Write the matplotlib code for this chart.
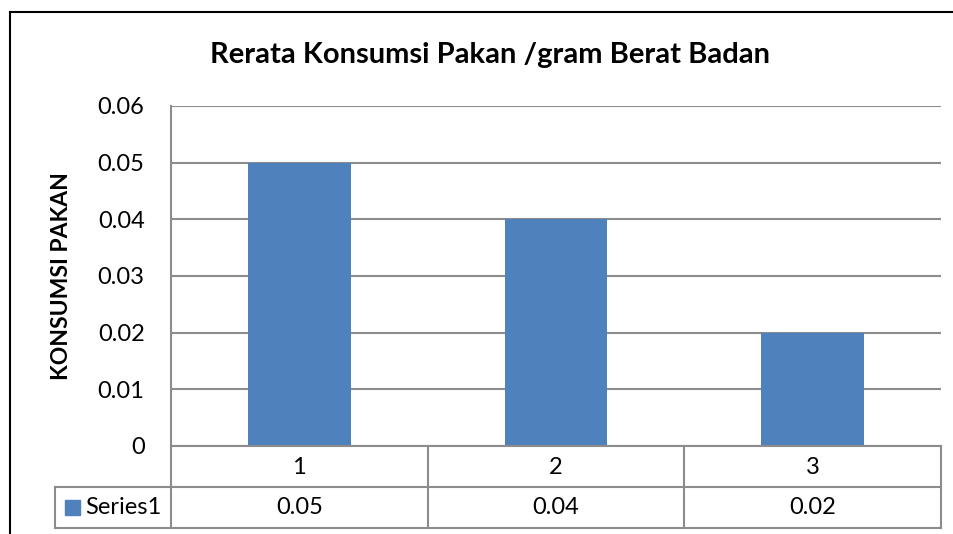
import numpy as np
import matplotlib.pyplot as plt
from matplotlib.patches import Rectangle
from matplotlib.lines import Line2D

plt.rcParams['font.family'] = ['Lato', 'DejaVu Sans']

categories = ['1', '2', '3']
series_name = 'Series1'
values = [0.05, 0.04, 0.02]
value_labels = ['0.05', '0.04', '0.02']
yticks = [0, 0.01, 0.02, 0.03, 0.04, 0.05, 0.06]
ytick_labels = ['0', '0.01', '0.02', '0.03', '0.04', '0.05', '0.06']

W, H = 954, 534
fig = plt.figure(figsize=(W / 100, H / 100), dpi=100)

def fx(px):
    return px / W

def fy(py):
    return 1 - py / H

grid_c = '#8c8c8c'
bar_c = '#4f81bd'

# outer chart border: background axes whose right/bottom edges fall outside the picture
frame = fig.add_axes([fx(10), -0.2, 1.3, fy(12) + 0.2], zorder=-1)
frame.set_xticks([])
frame.set_yticks([])
frame.spines['right'].set_visible(False)
frame.spines['bottom'].set_visible(False)
for s in ['top', 'left']:
    frame.spines[s].set_linewidth(1.5)
    frame.spines[s].set_color('black')

ax = fig.add_axes([fx(171), fy(446), fx(941) - fx(171), fy(106) - fy(446)])
ax.patch.set_alpha(0)
x = np.arange(len(categories))
ax.bar(x, values, width=0.4, color=bar_c, zorder=3)
ax.set_xlim(-0.5, len(categories) - 0.5)
ax.set_ylim(0, 0.06)
ax.set_yticks(yticks)
ax.set_yticklabels(ytick_labels)
ax.set_xticks([])
ax.tick_params(axis='y', length=0, pad=19, labelsize=17)
ax.yaxis.grid(True, color=grid_c, lw=1.5, zorder=0)
for s in ['top', 'right', 'bottom']:
    ax.spines[s].set_visible(False)
ax.spines['left'].set_color(grid_c)
ax.spines['left'].set_linewidth(1.5)

fig.text(fx(490), fy(55), 'Rerata Konsumsi Pakan /gram Berat Badan', fontsize=21,
         fontweight='bold', ha='center', va='center')
fig.text(fx(62), fy(276), 'KONSUMSI PAKAN', fontsize=16.5, fontweight='bold',
         rotation=90, ha='center', va='center')

# data table under the axis
def hline(y, x0, x1):
    fig.lines.append(Line2D([fx(x0), fx(x1)], [fy(y), fy(y)], transform=fig.transFigure,
                            color=grid_c, lw=1.5))

def vline(xp, y0, y1):
    fig.lines.append(Line2D([fx(xp), fx(xp)], [fy(y0), fy(y1)], transform=fig.transFigure,
                            color=grid_c, lw=1.5))

hline(446, 171, 941)
hline(487, 55, 941)
hline(528, 55, 941)
vline(55, 487, 528)
for xp in [171, 427.7, 684.3, 941]:
    vline(xp, 446, 528)

trans = ax.get_xaxis_transform()
row1 = (fy(467) - fy(446)) / (fy(106) - fy(446))
row2 = (fy(508) - fy(446)) / (fy(106) - fy(446))
for i, c in enumerate(categories):
    ax.text(x[i], row1, c, transform=trans, ha='center', va='center', fontsize=17, clip_on=False)
    ax.text(x[i], row2, value_labels[i], transform=trans, ha='center', va='center',
            fontsize=17, clip_on=False)

fig.patches.append(Rectangle((fx(65), fy(515)), fx(15), fy(500) - fy(515),
                             transform=fig.transFigure, color=bar_c))
fig.text(fx(85), fy(508), series_name, ha='left', va='center', fontsize=17)

fig.savefig('out.png', dpi=100)
